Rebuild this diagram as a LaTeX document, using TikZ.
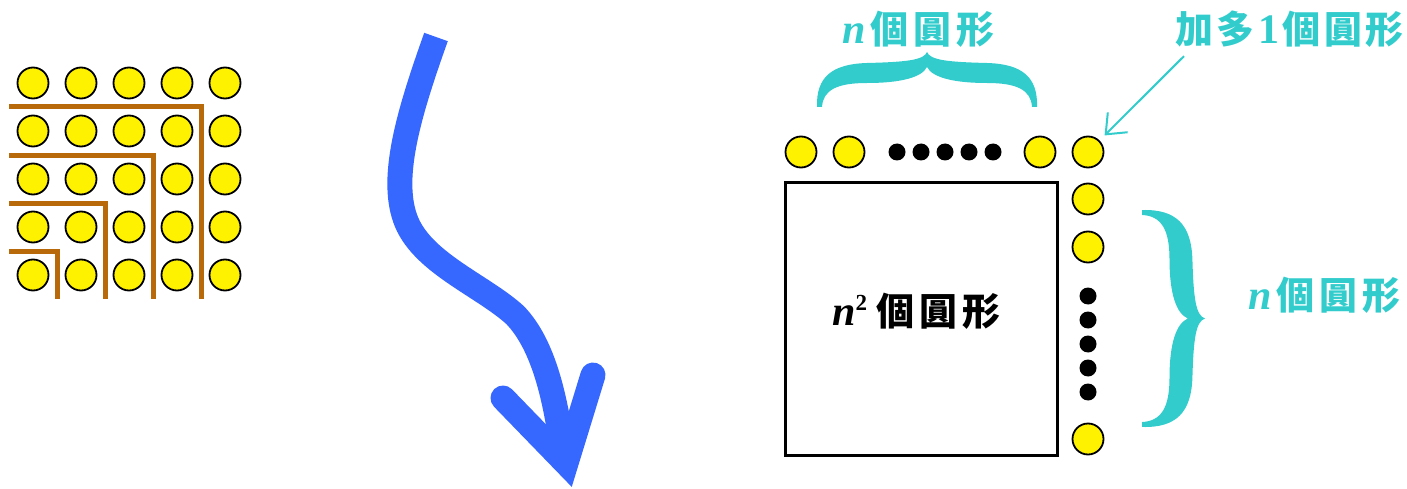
\documentclass[tikz,border=0pt]{standalone}
\usepackage{fontspec}
\setmainfont{Liberation Serif}
\newfontfamily\cjk{Noto Sans CJK TC}
\usetikzlibrary{arrows.meta}
\definecolor{ccy}{RGB}{51,204,204}
\definecolor{cbrown}{RGB}{184,106,10}
\definecolor{cblue}{RGB}{54,104,255}
\newcommand\nn{{\fontsize{42}{42}\selectfont\bfseries\itshape n}}
\newcommand\gp{\hspace{5pt}}
\newcommand\gq{\hspace{3.5pt}}
\newcommand\bracepath{%
  (-110,55) .. controls (-111,25) and (-95,12) .. (-60,11)
  .. controls (-20,10) and (-3,8) .. (0,0)
  .. controls (3,8) and (20,10) .. (60,11)
  .. controls (95,12) and (111,25) .. (110,55)
  -- (105,55)
  .. controls (104,38) and (90,31) .. (60,31)
  .. controls (25,31) and (5,25) .. (0,15)
  .. controls (-5,25) and (-25,31) .. (-60,31)
  .. controls (-90,31) and (-104,38) .. (-105,55) -- cycle}
\begin{document}
\begin{tikzpicture}[x=1pt,y=-1pt,
  yc/.style={circle,draw=black,fill=yellow,line width=1.8pt,minimum size=31pt,inner sep=0pt},
  bd/.style={circle,fill=black,minimum size=17pt,inner sep=0pt},
  txt/.style={inner sep=0pt,font=\fontsize{38}{40}\selectfont\bfseries},
  brn/.style={draw=cbrown,line width=5pt,line join=miter},
  ]
\useasboundingbox (0,0) rectangle (1407,489);
% left grid
\foreach \i in {0,...,4}
  \foreach \j in {0,...,4}
    \node[yc] (g\i\j) at ({33+48*\i},{83+48*\j}) {};
\draw[brn] (9,107) -- (201,107) -- (201,299);
\draw[brn] (9,156) -- (153,156) -- (153,299);
\draw[brn] (9,203) -- (105,203) -- (105,299);
\draw[brn] (9,251) -- (57,251) -- (57,299);
% blue arrow
\draw[cblue,line width=25pt,line cap=butt]
  (436,37) .. controls (410,110) and (390,175) .. (405,218)
  .. controls (420,262) and (482,285) .. (515,315)
  .. controls (544,345) and (556,400) .. (563,455);
\draw[cblue,line width=25pt,line cap=round,line join=miter]
  (503,398) -- (566,463) -- (593,375);
% square
\node[draw=black,line width=3pt,minimum width=272pt,minimum height=272pt,inner sep=0pt] (sq) at (921,319) {};
\node[txt,anchor=base west] (sqlab) at (832,325)
  {\nn\raisebox{15pt}{\fontsize{23}{23}\selectfont\bfseries 2}\hspace{9pt}\cjk 個\gp 圓\gp 形};
% top row
\node[yc] (t1) at (801,152) {};
\node[yc] (t2) at (849,152) {};
\foreach \k [count=\c] in {897,921,945,969,993}
  \node[bd] (td\c) at (\k,152) {};
\node[yc] (t3) at (1040,152) {};
\node[yc] (extra) at (1088,152) {};
% right column
\node[yc] (r1) at (1088,199) {};
\node[yc] (r2) at (1088,247) {};
\foreach \k [count=\c] in {296,320,344,368,392}
  \node[bd] (rd\c) at (1088,\k) {};
\node[yc] (r3) at (1088,439) {};
% braces
\begin{scope}[shift={(927,52)},x={(1pt,0pt)},y={(0pt,-1pt)}]
  \fill[ccy] \bracepath;
\end{scope}
\begin{scope}[shift={(1205,318.5)},x={(0pt,-0.986pt)},y={(-1.145pt,0pt)}]
  \fill[ccy] \bracepath;
\end{scope}
% labels
\node[txt,text=ccy,anchor=base west] (toplab) at (842,44) {\nn\gp\cjk 個\gp 圓\gp 形};
\node[txt,text=ccy,anchor=base west] (addlab) at (1175,44) {\cjk 加\gq 多\gq{\rmfamily\fontsize{42}{42}\selectfont 1}\gq 個\gq 圓\gq 形};
\node[txt,text=ccy,anchor=base west] (rlab) at (1248,309) {\nn\gp\cjk 個\gp 圓\gp 形};
\draw[ccy,line width=2pt,-{Straight Barb[length=17pt,width=28pt,line width=2pt]},shorten >=7pt]
  ([shift={(9,8)}]addlab.south west) -- (extra.north east);
\end{tikzpicture}
\end{document}
